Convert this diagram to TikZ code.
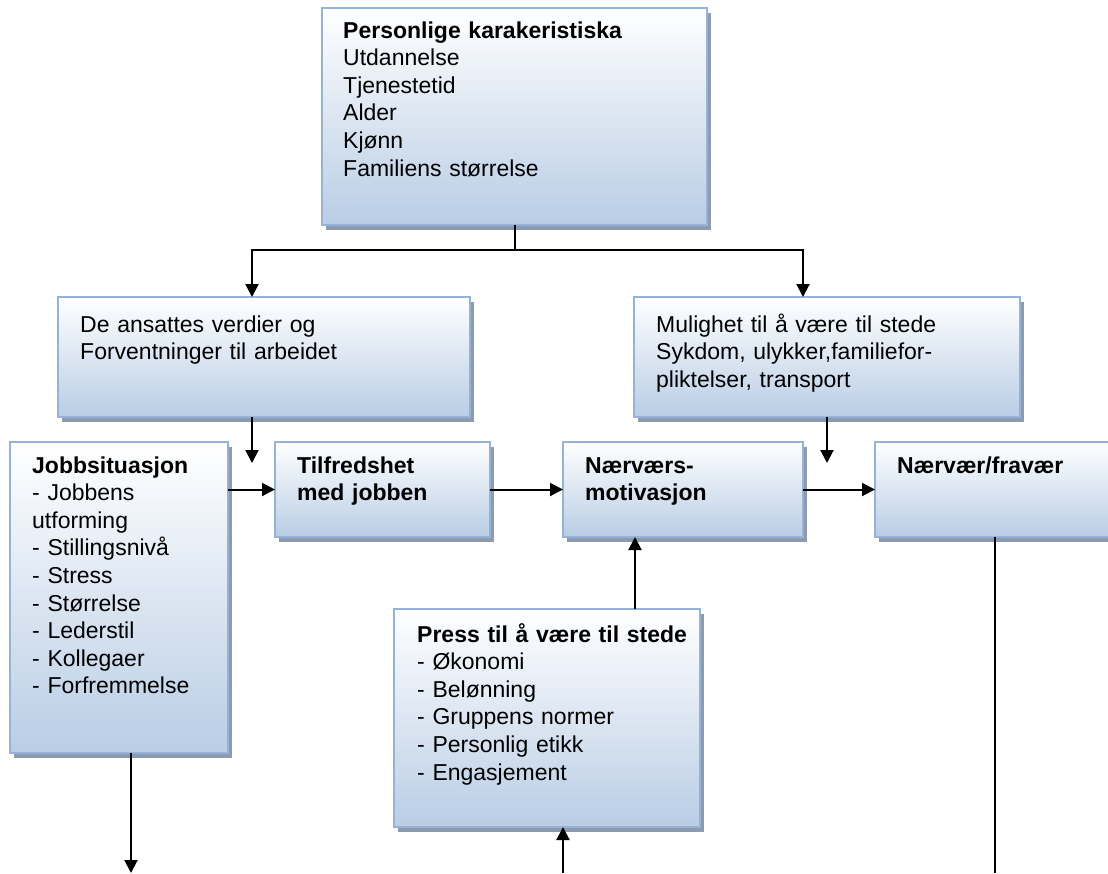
\documentclass[tikz,border=0pt]{standalone}
\usepackage{fontspec}
\setmainfont{Liberation Sans}
\usetikzlibrary{arrows.meta,shadows,calc}
\definecolor{boxtop}{HTML}{FFFFFF}
\definecolor{boxbot}{HTML}{B9CDE5}
\definecolor{boxedge}{HTML}{95B3D7}
\definecolor{boxshade}{HTML}{8E9AAD}
\definecolor{faint}{HTML}{D9D9D9}
\begin{document}
\begin{tikzpicture}[x=1pt,y=-1pt,
  box/.style={rectangle, anchor=north west, inner sep=0pt, outer sep=0pt,
    top color=boxtop, bottom color=boxbot, draw=boxedge, line width=1.6pt,
    drop shadow={shadow xshift=4pt, shadow yshift=-5pt, fill=boxshade, opacity=1}},
  txt/.style={anchor=base west, inner sep=0pt, align=left, text width=#1,
    font=\fontsize{23}{27.6}\selectfont},
  txt/.default=380pt,
  link/.style={line width=2pt, black},
  arr/.style={link, -{Triangle[length=13pt,width=13pt]}}]
\useasboundingbox (0,0) rectangle (1108,873);
\clip (0,0) rectangle (1108,873);

% boxes
\node[box, minimum width=385pt, minimum height=217pt] (pk)    at (322,8)   {};
\node[box, minimum width=412pt, minimum height=120pt] (ans)   at (58,297)  {};
\node[box, minimum width=386pt, minimum height=120pt] (mul)   at (634,297) {};
\node[box, minimum width=218pt, minimum height=311pt] (job)   at (10,442)  {};
\node[box, minimum width=215pt, minimum height=95pt]  (tilf)  at (275,442) {};
\node[box, minimum width=240pt, minimum height=95pt]  (naer)  at (563,442) {};
\node[box, minimum width=260pt, minimum height=95pt]  (fra)   at (875,442) {};
\node[box, minimum width=306pt, minimum height=218pt] (press) at (394,609) {};

% texts
\node[txt] (pk-t) at (343,38) {\textbf{Personlige karakeristiska}\\Utdannelse\\Tjenestetid\\Alder\\Kjønn\\Familiens størrelse};
\node[txt] (ans-t) at (80,332) {De ansattes verdier og\\Forventninger til arbeidet};
\node[txt] (mul-t) at (656,332) {Mulighet til å være til stede\\Sykdom, ulykker,familiefor-\\pliktelser, transport};
\node[txt=200pt] (job-t) at (32,473) {\textbf{Jobbsituasjon}\\- Jobbens\\utforming\\- Stillingsnivå\\- Stress\\- Størrelse\\- Lederstil\\- Kollegaer\\- Forfremmelse};
\node[txt=190pt] (tilf-t) at (297,473) {\textbf{Tilfredshet}\\\textbf{med jobben}};
\node[txt=210pt] (naer-t) at (585,473) {\textbf{Nærværs-}\\\textbf{motivasjon}};
\node[txt=210pt] (fra-t) at (897,473) {\textbf{Nærvær/fravær}};
\node[txt=290pt] (press-t) at (417,642) {\textbf{Press til å være til stede}\\- Økonomi\\- Belønning\\- Gruppens normer\\- Personlig etikk\\- Engasjement};

% free ends and junctions
\coordinate (split) at (514.5,250);
\coordinate (ans-end) at (252,463);
\coordinate (mul-end) at (827,463);
\coordinate (job-end) at (131,873);
\coordinate (press-start) at (563,873);
\coordinate (fra-end) at (995,873);

% connectors
\draw[link] (pk.south) -- (split);
\draw[arr] (split) -| (ans.north -| ans-end);
\draw[arr] (split) -| ([xshift=-24pt]mul.north);
\draw[arr] (ans.south -| ans-end) -- (ans-end);
\draw[arr] (mul.south) -- (mul-end);
\draw[arr] (tilf.west -| job.east) -- (tilf.west);
\draw[arr] (tilf.east) -- (naer.west);
\draw[arr] (naer.east) -- (fra.west);
\draw[arr] (press.north -| 635,0) -- (naer.south -| 635,0);
\draw[arr] (job.south -| job-end) -- (job-end);
\draw[arr] (press-start) -- (press.south -| press-start);
\draw[link] (fra.south -| fra-end) -- (fra-end);
\draw[faint, line width=1pt] ([yshift=-1pt]job-end) -- ([yshift=-1pt]fra-end);
\end{tikzpicture}
\end{document}
